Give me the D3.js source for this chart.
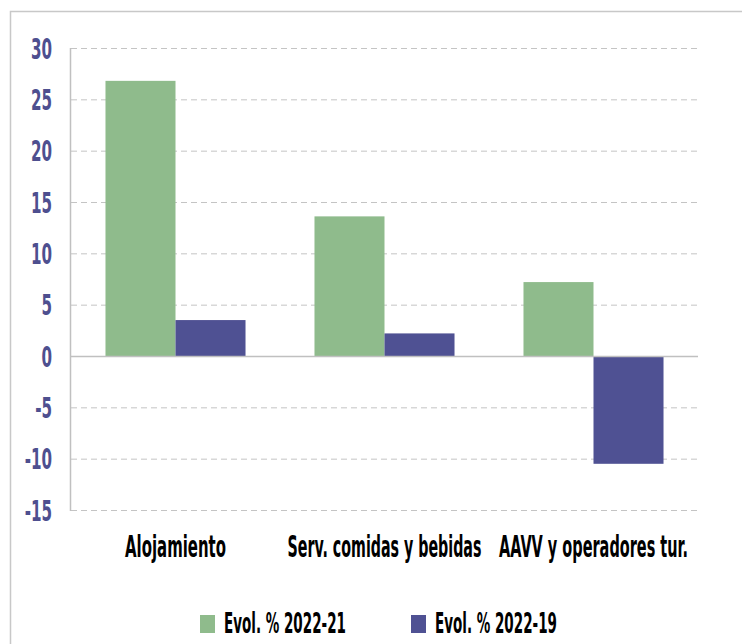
<!doctype html>
<html lang="en">
<head>
<meta charset="utf-8">
<style>
  body { margin: 0; background: #fff; }
  svg { display: block; }
  text { font-family: "Liberation Sans Narrow", "DejaVu Sans Condensed", sans-serif; font-weight: bold; }
  .grid line { stroke: #c4c4c4; stroke-dasharray: 6 4; }
</style>
</head>
<body>
<script src="https://d3js.org/d3.v7.min.js"></script>
<script>
var categories = ["Alojamiento", "Serv. comidas y bebidas", "AAVV y operadores tur."];
var series = ["Evol. % 2022-21", "Evol. % 2022-19"];
var evol2221 = [26.8, 13.6, 7.2];
var evol2219 = [3.5, 2.2, -10.5];
var yTicks = [30, 25, 20, 15, 10, 5, 0, -5, -10, -15];
var colors = ["#8fbb8c", "#4f5193"];

var width = 742, height = 644;
var svg = d3.select("body").append("svg")
  .attr("width", width).attr("height", height);

// outer frame
svg.append("rect")
  .attr("x", 10.5).attr("y", 11.5)
  .attr("width", width).attr("height", height)
  .attr("fill", "none").attr("stroke", "#c8c8c8").attr("stroke-width", 1.5);

var plotL = 71, plotR = 698, plotT = 48, plotB = 510;

var y = d3.scaleLinear().domain([-15, 30]).range([plotB, plotT]);
var x0 = d3.scaleBand().domain(categories).range([plotL, plotR]).paddingInner(0.33).paddingOuter(0.165);
var x1 = d3.scaleBand().domain(series).range([0, x0.bandwidth()]);

// squeeze a text horizontally to a target width (condensed look)
function squeeze(sel, tx, ty, w) {
  sel.each(function(d, i) {
    var t = d3.select(this);
    var nat = this.getComputedTextLength();
    var target = typeof w === "function" ? w(d, i) : w;
    var sx = target / nat;
    t.attr("transform", "translate(" + tx(d, i) + "," + ty + ") scale(" + sx + ",1)");
  });
}

// gridlines
var grid = svg.append("g").attr("class", "grid");
grid.selectAll("line").data(yTicks.filter(function(d){ return d !== 0; }))
  .enter().append("line")
  .attr("x1", plotL).attr("x2", plotR)
  .attr("y1", function(d){ return y(d) + 0.5; })
  .attr("y2", function(d){ return y(d) + 0.5; });

// bars
var data = categories.map(function(c, i){ return { cat: c, vals: [evol2221[i], evol2219[i]] }; });
var groups = svg.selectAll(".cat").data(data).enter().append("g")
  .attr("transform", function(d){ return "translate(" + x0(d.cat) + ",0)"; });
groups.selectAll("rect").data(function(d){ return d.vals.map(function(v, j){ return { s: series[j], v: v, j: j }; }); })
  .enter().append("rect")
  .attr("x", function(d){ return x1(d.s); })
  .attr("width", x1.bandwidth())
  .attr("y", function(d){ return y(Math.max(0, d.v)); })
  .attr("height", function(d){ return Math.abs(y(d.v) - y(0)); })
  .attr("fill", function(d){ return colors[d.j]; });

// zero line and y axis line
svg.append("line").attr("x1", plotL).attr("x2", plotR)
  .attr("y1", y(0) + 0.5).attr("y2", y(0) + 0.5)
  .attr("stroke", "#c0c0c0").attr("stroke-width", 1.5);
svg.append("line").attr("x1", plotL - 0.5).attr("x2", plotL - 0.5)
  .attr("y1", plotT).attr("y2", plotB + 1)
  .attr("stroke", "#c0c0c0").attr("stroke-width", 1.5);

// y tick labels
svg.selectAll(".ytick").data(yTicks).enter().append("text")
  .attr("class", "ytick")
  .attr("transform", function(d){ return "translate(52," + (y(d) + 10.5) + ") scale(0.58,1)"; })
  .attr("text-anchor", "end")
  .attr("font-size", 29)
  .attr("fill", "#4e4f8f")
  .text(function(d){ return d; });

// category labels
var catLen = [101, 194, 189];
svg.selectAll(".cat-label").data(categories).enter().append("text")
  .attr("text-anchor", "middle")
  .attr("font-size", 30)
  .attr("fill", "#000")
  .text(function(d){ return d; })
  .call(squeeze, function(d){ return x0(d) + x0.bandwidth() / 2; }, 557,
        function(d, i){ return catLen[i]; });

// legend
var legend = svg.selectAll(".legend").data(series).enter().append("g")
  .attr("transform", function(d, i){ return "translate(" + (200 + i * 211) + ",615)"; });
legend.append("rect").attr("width", 15).attr("height", 18)
  .attr("fill", function(d, i){ return colors[i]; });
legend.append("text")
  .attr("font-size", 28)
  .text(function(d){ return d; })
  .call(squeeze, function(){ return 24; }, 18, 122);
</script>
</body>
</html>
